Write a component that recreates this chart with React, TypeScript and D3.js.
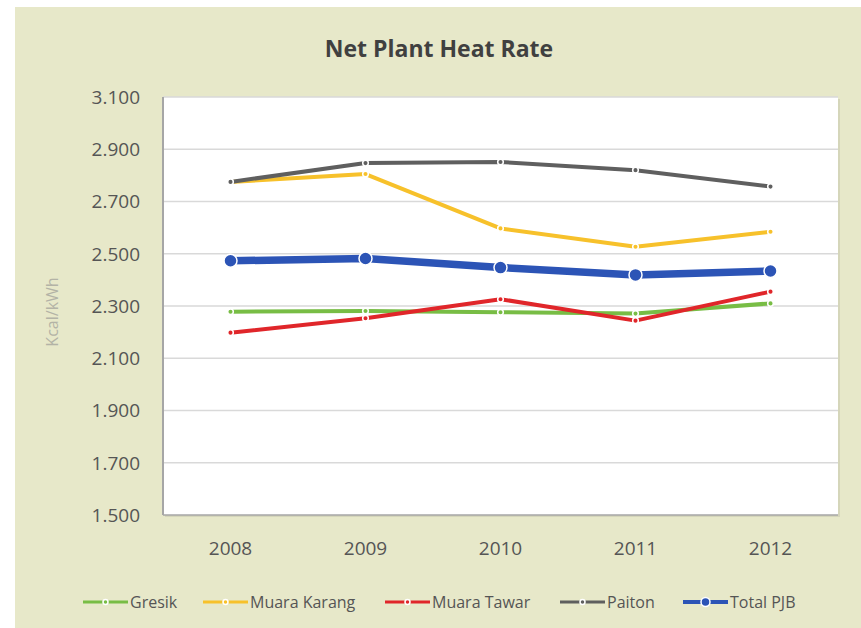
import React, { useEffect, useRef } from "react";
import * as d3 from "d3";

const years = ["2008", "2009", "2010", "2011", "2012"];
const yTicks = [1500, 1700, 1900, 2100, 2300, 2500, 2700, 2900, 3100];

const gresik = [2278, 2281, 2276, 2271, 2310];
const muaraKarang = [2775, 2805, 2597, 2527, 2584];
const muaraTawar = [2198, 2253, 2326, 2244, 2355];
const paiton = [2775, 2847, 2851, 2820, 2757];
const totalPjb = [2473, 2482, 2447, 2419, 2434];

const series = [
  { name: "Gresik", values: gresik, color: "#78bd45", width: 4, r: 2.8, legendX: 83 },
  { name: "Muara Karang", values: muaraKarang, color: "#f7c12b", width: 4, r: 2.8, legendX: 203 },
  { name: "Muara Tawar", values: muaraTawar, color: "#e0262a", width: 4, r: 2.8, legendX: 385 },
  { name: "Paiton", values: paiton, color: "#5f5f5f", width: 4, r: 2.8, legendX: 560 },
  { name: "Total PJB", values: totalPjb, color: "#2c54b6", width: 7.5, r: 6.5, legendX: 683 },
];

const W = 861;
const H = 628;
const FONT = "'Open Sans', 'DejaVu Sans', sans-serif";

export default function App() {
  const svgRef = useRef<SVGSVGElement>(null);

  useEffect(() => {
    const svg = d3.select(svgRef.current);
    svg.selectAll("*").remove();

    const plot = { left: 163, top: 97, right: 838, bottom: 515 };

    // beige chart area
    svg.append("rect").attr("x", 15).attr("y", 7).attr("width", W - 15).attr("height", H - 7).attr("fill", "#e7e8c9");

    const x = d3.scalePoint<string>().domain(years).range([plot.left, plot.right]).padding(0.5);
    const y = d3.scaleLinear().domain([1500, 3100]).range([plot.bottom, plot.top]);

    // plot area with soft shadow
    svg.append("rect")
      .attr("x", plot.left + 2).attr("y", plot.top + 2)
      .attr("width", plot.right - plot.left).attr("height", plot.bottom - plot.top)
      .attr("fill", "#c9cab0").attr("opacity", 0.6);
    svg.append("rect")
      .attr("x", plot.left).attr("y", plot.top)
      .attr("width", plot.right - plot.left).attr("height", plot.bottom - plot.top)
      .attr("fill", "#ffffff");

    // gridlines
    svg.append("g")
      .selectAll("line")
      .data(yTicks)
      .enter()
      .append("line")
      .attr("x1", plot.left).attr("x2", plot.right)
      .attr("y1", d => y(d)).attr("y2", d => y(d))
      .attr("stroke", d => (d === 1500 ? "#a6a6a6" : "#d9d9d9"))
      .attr("stroke-width", 1.5);

    // left axis line
    svg.append("line")
      .attr("x1", plot.left).attr("x2", plot.left)
      .attr("y1", plot.top).attr("y2", plot.bottom)
      .attr("stroke", "#a6a6a6").attr("stroke-width", 2);

    // y tick labels
    svg.append("g")
      .selectAll("text")
      .data(yTicks)
      .enter()
      .append("text")
      .attr("x", 140)
      .attr("y", d => y(d))
      .attr("dy", "0.36em")
      .attr("text-anchor", "end")
      .attr("font-family", FONT)
      .attr("font-size", 19)
      .attr("fill", "#555555")
      .text(d => d3.format(",")(d).replace(",", "."));

    // x tick labels
    svg.append("g")
      .selectAll("text")
      .data(years)
      .enter()
      .append("text")
      .attr("x", d => x(d) as number)
      .attr("y", 555)
      .attr("text-anchor", "middle")
      .attr("font-family", FONT)
      .attr("font-size", 19)
      .attr("fill", "#555555")
      .text(d => d);

    // title
    svg.append("text")
      .attr("x", 439)
      .attr("y", 57)
      .attr("text-anchor", "middle")
      .attr("font-family", FONT)
      .attr("font-weight", "bold")
      .attr("font-size", 23)
      .attr("fill", "#404040")
      .text("Net Plant Heat Rate");

    // y axis title
    svg.append("text")
      .attr("transform", "translate(58, 312) rotate(-90)")
      .attr("text-anchor", "middle")
      .attr("font-family", FONT)
      .attr("font-size", 16)
      .attr("fill", "#b3b3a6")
      .text("Kcal/kWh");

    const line = d3.line<number>()
      .x((_, i) => x(years[i]) as number)
      .y(d => y(d));

    series.forEach(s => {
      const g = svg.append("g");
      g.append("path")
        .attr("d", line(s.values))
        .attr("fill", "none")
        .attr("stroke", s.color)
        .attr("stroke-width", s.width)
        .attr("stroke-linejoin", "round");
      g.selectAll("circle")
        .data(s.values)
        .enter()
        .append("circle")
        .attr("cx", (_, i) => x(years[i]) as number)
        .attr("cy", d => y(d))
        .attr("r", s.r)
        .attr("fill", s.color)
        .attr("stroke", "#ffffff")
        .attr("stroke-width", 1.5);
    });

    // legend
    const ly = 602;
    series.forEach(s => {
      const g = svg.append("g");
      g.append("line")
        .attr("x1", s.legendX).attr("x2", s.legendX + 45)
        .attr("y1", ly).attr("y2", ly)
        .attr("stroke", s.color)
        .attr("stroke-width", s.name === "Total PJB" ? 4 : 3);
      g.append("circle")
        .attr("cx", s.legendX + 22.5).attr("cy", ly)
        .attr("r", s.name === "Total PJB" ? 4.5 : 2.5)
        .attr("fill", s.color)
        .attr("stroke", "#ffffff")
        .attr("stroke-width", 1.5);
      g.append("text")
        .attr("x", s.legendX + 47)
        .attr("y", ly)
        .attr("dy", "0.36em")
        .attr("font-family", FONT)
        .attr("font-size", 16)
        .attr("fill", "#555555")
        .text(s.name);
    });
  }, []);

  return (
    <svg
      ref={svgRef}
      width={W}
      height={H}
      style={{ position: "absolute", left: 0, top: 0, background: "#ffffff" }}
    />
  );
}
